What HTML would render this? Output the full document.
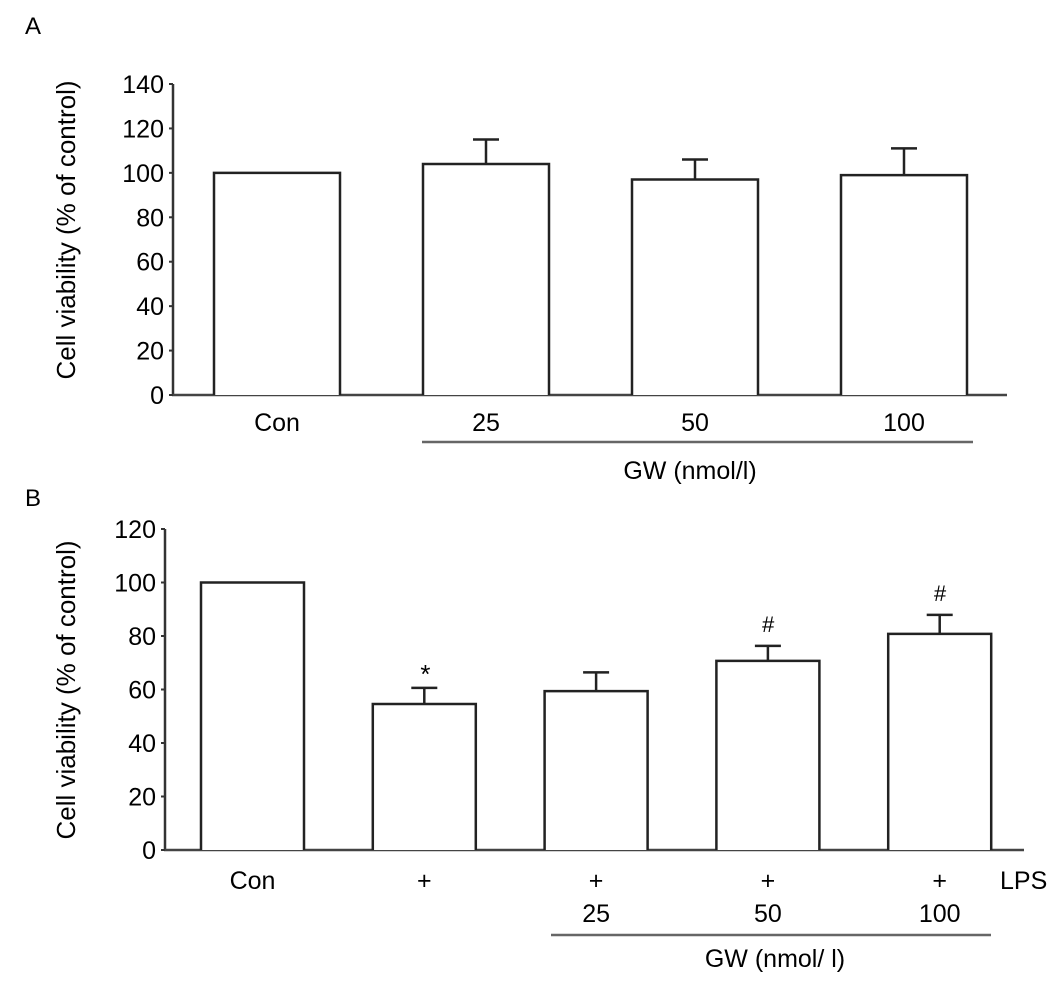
<!DOCTYPE html>
<html><head><meta charset="utf-8"><style>
body{margin:0;background:#fff;}
svg{display:block;font-family:"Liberation Sans",Arial,sans-serif;}
</style></head><body>
<svg id="fig" width="1063" height="992" viewBox="0 0 1063 992"></svg>
<script>
const catsA=["Con","25","50","100"];
const valsA=[100,104,97,99];
const errA=[0,11,9,12];
const ticksA=[0,20,40,60,80,100,120,140];
const catsB=["Con","+","+","+","+"];
const doseB=["","","25","50","100"];
const valsB=[100,54.6,59.4,70.7,80.8];
const errB=[0,6,7,5.6,7.1];
const marksB=["","*","","#","#"];
const ticksB=[0,20,40,60,80,100,120];

const svg=document.getElementById('fig');
const NS="http://www.w3.org/2000/svg";
function mk(tag,attrs,parent,text){const e=document.createElementNS(NS,tag);for(const k in attrs)e.setAttribute(k,attrs[k]);if(text!==undefined)e.textContent=text;(parent||svg).appendChild(e);return e;}

function panel(o){
  const g=mk('g',{});
  
  
  const y=v=>o.y0-(v-0)/o.ymax*(o.y0-o.yTop);
  const t=mk('text',{x:33,y:o.letterY,'font-size':24,'text-anchor':'middle'},g,o.letter);
  
  
  const yt=mk('text',{x:0,y:0,'font-size':26,'text-anchor':'middle',transform:`translate(75,${o.titleY}) rotate(-90)`},g,'Cell viability (% of control)');
  
  
  const ax=mk('line',{x1:o.ax,y1:o.yTop,x2:o.ax,y2:o.y0,stroke:'#333','stroke-width':2.5},g);
  
  
  const xa=mk('line',{x1:o.ax-1,y1:o.y0,x2:o.xEnd,y2:o.y0,stroke:'#444','stroke-width':2.5},g);
  
  
  o.ticks.forEach(v=>{
    const tk=mk('line',{x1:o.ax-4,y1:y(v),x2:o.ax,y2:y(v),stroke:'#333','stroke-width':2},g);
    
    
    const tl=mk('text',{x:o.ax-9,y:y(v)+9,'font-size':25,'text-anchor':'end'},g,String(v));
    
    
  });
  o.vals.forEach((v,i)=>{
    const x=o.firstX+i*o.step, w=o.barW, cx=x+w/2;
    const top=y(v);
    const b=mk('path',{d:`M${x},${o.y0} V${top} H${x+w} V${o.y0}`,fill:'#fff',stroke:'#222','stroke-width':2.5},g);
    
    
    if(o.err[i]>0){
      const et=y(v+o.err[i]);
      const e=mk('path',{d:`M${cx},${top} V${et} M${cx-13},${et} H${cx+13}`,stroke:'#222','stroke-width':2.5,fill:'none'},g);
      
      
    }
    if(o.marks&&o.marks[i]){
      const m=mk('text',{x:cx,y:y(v+o.err[i])-14,'font-size':o.marks[i]=='*'?26:22,'text-anchor':'middle','font-style':'italic'},g,o.marks[i]);
      if(o.marks[i]=='*')m.setAttribute('y',y(v+o.err[i])-5);
      
      
    }
    const l=mk('text',{x:cx,y:o.labY,'font-size':25,'text-anchor':'middle'},g,o.cats[i]);
    
    
    if(o.dose&&o.dose[i]){
      const d=mk('text',{x:cx,y:o.doseY,'font-size':25,'text-anchor':'middle'},g,o.dose[i]);
      
      
    }
  });
  const ul=mk('line',{x1:o.ulX1,y1:o.ulY,x2:o.ulX2,y2:o.ulY,stroke:'#666','stroke-width':2.5},g);
  
  
  const gw=mk('text',{x:o.gwX,y:o.gwY,'font-size':25,'text-anchor':'middle'},g,o.gwText);
  
  
  if(o.lps){
    const lp=mk('text',{x:1000,y:o.labY,'font-size':25},g,'LPS');
    
    
  }
}

panel({name:'panel-a',letter:'A',letterY:34,titleY:230,ax:173,yTop:84,y0:395,ymax:140,xEnd:1007,ticks:ticksA,
  vals:valsA,err:errA,cats:catsA,firstX:214,step:209,barW:126,labY:431,ulX1:422,ulX2:973,ulY:442,gwX:690,gwY:479,gwText:'GW (nmol/l)'});
panel({name:'panel-b',letter:'B',letterY:506,titleY:690,ax:165,yTop:529,y0:850,ymax:120,xEnd:1024,ticks:ticksB,
  vals:valsB,err:errB,cats:catsB,dose:doseB,marks:marksB,firstX:201,step:171.8,barW:103,labY:889,doseY:922,ulX1:551,ulX2:991,ulY:935,gwX:775,gwY:967,gwText:'GW (nmol/ l)',lps:true});
</script>
</body></html>
